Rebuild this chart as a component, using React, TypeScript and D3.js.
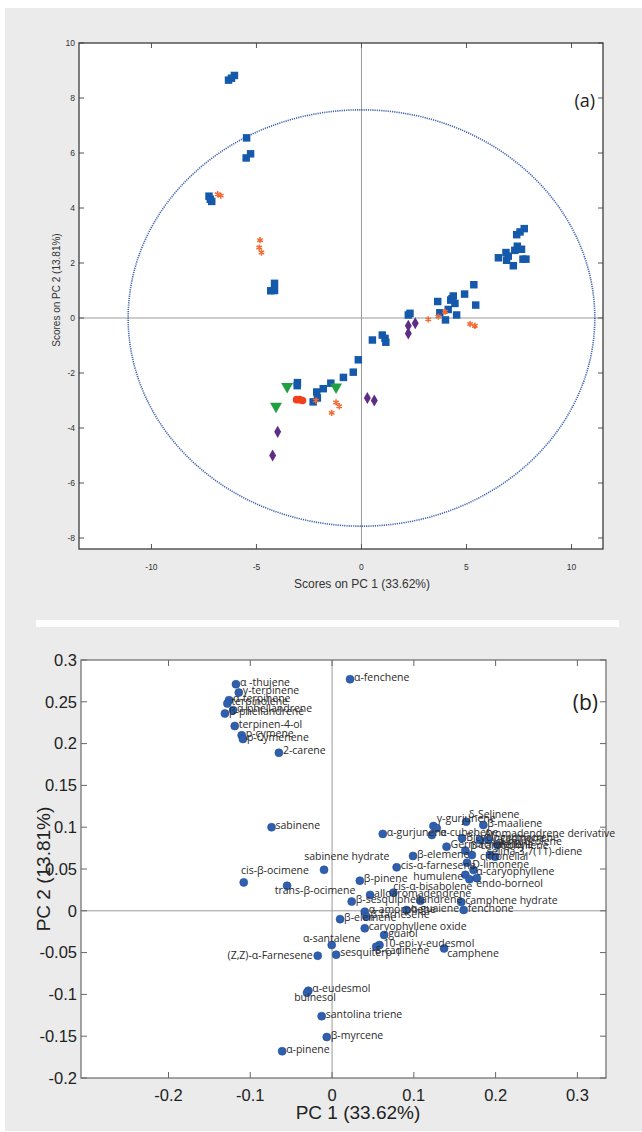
import React from "react";
import * as d3 from "d3";

// ---------- (a) PCA scores ----------
const scoreTicksX = [-10, -5, 0, 5, 10];
const scoreTicksY = [-8, -6, -4, -2, 0, 2, 4, 6, 8, 10];
const confidenceRadius = [11.11, 7.57]; // ellipse semi-axes on PC1, PC2

const blueSquares: [number, number][] = [
  [-6.33, 8.65], [-6.19, 8.72], [-6.05, 8.82],
  [-5.47, 6.55], [-5.49, 5.82], [-5.28, 5.97],
  [-7.26, 4.43], [-7.13, 4.24], [-7.2, 4.32],
  [-4.32, 0.99], [-4.14, 1.0], [-4.14, 1.26],
  [7.75, 3.25], [7.55, 3.13], [7.39, 3.03], [7.42, 2.61], [7.62, 2.5], [6.88, 2.38],
  [6.52, 2.19], [6.91, 2.1], [7.83, 2.14], [7.23, 1.9], [7.3, 2.46], [7.69, 2.14], [6.99, 2.25],
  [5.35, 1.21], [4.91, 0.87], [3.63, 0.6], [4.37, 0.8], [4.25, 0.65], [4.45, 0.53], [5.44, 0.47],
  [4.13, 0.31], [3.73, 0.19], [4.53, 0.11], [4.0, -0.07], [2.31, 0.17], [2.23, 0.11], [4.31, 0.7],
  [0.52, -0.8], [0.99, -0.62], [1.12, -0.74], [1.16, -0.88], [-0.15, -1.52], [-0.39, -1.97],
  [-0.86, -2.16], [-1.46, -2.37], [-1.82, -2.57], [-2.13, -2.69], [-2.3, -3.05], [-3.06, -2.46],
  [-2.1, -2.91], [-3.05, -2.35],
];
const orangeStars: [number, number][] = [
  [-6.85, 4.5], [-6.7, 4.45], [-4.83, 2.83], [-4.87, 2.56], [-4.76, 2.38],
  [3.18, -0.05], [3.66, 0.05], [3.98, 0.23], [5.17, -0.22], [5.4, -0.28],
  [-2.17, -3.0], [-1.21, -3.07], [-1.06, -3.21], [-1.42, -3.45],
];
const purpleDiamonds: [number, number][] = [
  [2.23, -0.28], [2.56, -0.19], [2.23, -0.56], [0.28, -2.91], [0.61, -3.0], [-3.99, -4.14], [-4.23, -5.0],
];
const greenTriangles: [number, number][] = [[-3.54, -2.49], [-1.21, -2.51], [-4.07, -3.21]];
const redCircles: [number, number][] = [[-3.09, -2.97], [-2.95, -2.97], [-2.81, -3.0]];

// ---------- (b) PCA loadings ----------
const loadTicksX = [-0.2, -0.1, 0, 0.1, 0.2, 0.3];
const loadTickLabelsX = ["-0.2", "-0.1", "0", "0.1", "0.2", "0.3"];
const loadTicksY = [-0.2, -0.15, -0.1, -0.05, 0, 0.05, 0.1, 0.15, 0.2, 0.25, 0.3];
const loadTickLabelsY = ["-0.2", "-0.15", "-0.1", "-0.05", "0", "0.05", "0.1", "0.15", "0.2", "0.25", "0.3"];

const loadings: [string, number, number][] = [
  ["α-fenchene", 0.022, 0.277],
  ["α -thujene", -0.1175, 0.271],
  ["γ-terpinene", -0.114, 0.261],
  ["α-terpinene", -0.126, 0.252],
  ["terpinolene", -0.128, 0.248],
  ["α-phellandrene", -0.121, 0.24],
  ["β-phellandrene", -0.131, 0.236],
  ["terpinen-4-ol", -0.119, 0.221],
  ["p-cymene", -0.1105, 0.21],
  ["p-Cymenene", -0.109, 0.2055],
  ["2-carene", -0.065, 0.189],
  ["sabinene", -0.074, 0.1],
  ["α-gurjunene", 0.062, 0.092],
  ["sabinene hydrate", -0.0098, 0.049],
  ["cis-β-ocimene", -0.108, 0.034],
  ["trans-β-ocimene", -0.055, 0.03],
  ["β-pinene", 0.034, 0.036],
  ["cis-α-farnesene", 0.079, 0.052],
  ["β-elemene", 0.099, 0.0656],
  ["alloaromadendrene", 0.0465, 0.019],
  ["cis-α-bisabolene", 0.075, 0.0217],
  ["β-sesquiphellandrene", 0.024, 0.011],
  ["", 0.108, 0.012],
  ["α-amorphene", 0.04, -0.001],
  ["β-farnesene", 0.042, -0.007],
  ["α-guaiene", 0.091, 0.001],
  ["fenchone", 0.161, 0.001],
  ["camphene hydrate", 0.158, 0.0105],
  ["β-elemene", 0.0098, -0.01],
  ["caryophyllene oxide", 0.04, -0.021],
  ["guaiol", 0.0637, -0.029],
  ["10-epi-γ-eudesmol", 0.058, -0.041],
  ["δ-cadinene", 0.054, -0.043],
  ["camphene", 0.137, -0.045],
  ["α-santalene", -0.0004, -0.041],
  ["(Z,Z)-α-Farnesene", -0.0175, -0.0537],
  ["sesquiterp-1", 0.005, -0.0525],
  ["α-eudesmol", -0.029, -0.0956],
  ["bulnesol", -0.0306, -0.098],
  ["santolina triene", -0.0127, -0.126],
  ["β-myrcene", -0.0065, -0.151],
  ["α-pinene", -0.061, -0.168],
  ["δ-Selinene", 0.164, 0.1066],
  ["γ-gurjunene", 0.124, 0.1014],
  ["β-maaliene", 0.185, 0.1026],
  ["α-cubebene", 0.122, 0.0907],
  ["", 0.128, 0.0987],
  ["Aromadendrene derivative", 0.181, 0.0847],
  ["Bicyclogermacrene", 0.159, 0.0867],
  ["Germacrene D", 0.14, 0.0767],
  ["selina-3,7(11)-diene", 0.193, 0.0668],
  ["citronellal", 0.171, 0.0667],
  ["β-caryophyllene", 0.163, 0.072],
  ["α-muurolene", 0.1995, 0.0647],
  ["γ-cadinene", 0.191, 0.0847],
  ["ledene", 0.202, 0.0787],
  ["D-limonene", 0.165, 0.0576],
  ["α-caryophyllene", 0.173, 0.0488],
  ["humulene", 0.163, 0.043],
  ["endo-borneol", 0.168, 0.0377],
  ["", 0.177, 0.039],
];

// label anchors (data units) where the label is not just right of its point
const labelAnchors: Record<string, [number, number, "start" | "middle" | "end"]> = {
  "sabinene hydrate": [0.018, 0.0656, "middle"],
  "cis-β-ocimene": [-0.0698, 0.0488, "middle"],
  "trans-β-ocimene": [-0.0208, 0.025, "middle"],
  "cis-α-bisabolene": [0.0747, 0.0288, "start"],
  "δ-cadinene": [0.0526, -0.047, "start"],
  "camphene": [0.1408, -0.0508, "start"],
  "α-santalene": [-0.0004, -0.0333, "middle"],
  "(Z,Z)-α-Farnesene": [-0.0236, -0.0529, "end"],
  "bulnesol": [-0.0208, -0.1035, "middle"],
  "δ-Selinene": [0.1665, 0.1158, "start"],
  "γ-gurjunene": [0.128, 0.1106, "start"],
  "α-cubebene": [0.132, 0.0943, "start"],
  "Aromadendrene derivative": [0.186, 0.0931, "start"],
  "Bicyclogermacrene": [0.164, 0.0883, "start"],
  "selina-3,7(11)-diene": [0.1892, 0.0707, "start"],
  "citronellal": [0.181, 0.0647, "start"],
  "β-caryophyllene": [0.169, 0.0787, "start"],
  "α-muurolene": [0.203, 0.0835, "start"],
  "γ-cadinene": [0.195, 0.0865, "start"],
  "ledene": [0.206, 0.08, "start"],
  "D-limonene": [0.1714, 0.056, "start"],
  "α-caryophyllene": [0.1763, 0.0468, "start"],
  "humulene": [0.1603, 0.0408, "end"],
  "endo-borneol": [0.1763, 0.0329, "start"],
};

const ARIAL = "'Liberation Sans', Arial, sans-serif";
const LABEL_FONT = "'Open Sans', sans-serif";

function Marker({ d, x, y, fill, stroke, sw, rot }: any) {
  return (
    <path
      d={d}
      transform={`translate(${x},${y})${rot ? ` rotate(${rot})` : ""}`}
      fill={fill}
      stroke={stroke || "none"}
      strokeWidth={sw || 0}
    />
  );
}

export default function App() {
  // ----- top chart geometry -----
  const sx = d3.scaleLinear().domain([-13.45, 11.5]).range([79, 603]);
  const sy = d3.scaleLinear().domain([-8.4, 10]).range([549, 43]);
  const [tx0, tx1] = sx.range();
  const [ty0, ty1] = [sy(10), sy(-8.4)];

  const sq = d3.symbol().type(d3.symbolSquare).size(56)()!;
  const ast = d3.symbol().type(d3.symbolAsterisk).size(28)()!;
  const dia = d3.symbol().type(d3.symbolDiamond).size(42)()!;
  const tri = d3.symbol().type(d3.symbolTriangle).size(62)()!;
  const circ = d3.symbol().type(d3.symbolCircle).size(46)()!;

  // ----- bottom chart geometry -----
  const bx = d3.scaleLinear().domain([-0.307, 0.335]).range([81, 606]);
  const by = d3.scaleLinear().domain([-0.2, 0.3]).range([1078, 660]);
  const [bx0, bx1] = bx.range();
  const [by0, by1] = [by(0.3), by(-0.2)];

  return (
    <svg
      width={642}
      height={1132}
      style={{ position: "absolute", left: 0, top: 0, display: "block" }}
      xmlns="http://www.w3.org/2000/svg"
    >
      <rect x={0} y={0} width={642} height={1132} fill="#ffffff" />
      <rect x={5} y={8} width={637} height={1123} fill="#ebebeb" />
      <rect x={36} y={620} width={583} height={7} fill="#ffffff" />

      {/* ================= (a) ================= */}
      <rect x={tx0} y={ty0} width={tx1 - tx0} height={ty1 - ty0} fill="#ffffff" />
      <line x1={sx(0)} x2={sx(0)} y1={ty0} y2={ty1} stroke="#9a9a9a" strokeWidth={1} />
      <line x1={tx0} x2={tx1} y1={sy(0)} y2={sy(0)} stroke="#9a9a9a" strokeWidth={1} />
      <ellipse
        cx={sx(0)}
        cy={sy(0)}
        rx={sx(confidenceRadius[0]) - sx(0)}
        ry={sy(0) - sy(confidenceRadius[1])}
        fill="none"
        stroke="#3f64ad"
        strokeWidth={1.6}
        strokeDasharray="1.2 1"
      />
      {scoreTicksX.map((t) => (
        <g key={"sxt" + t}>
          <line x1={sx(t)} x2={sx(t)} y1={ty1} y2={ty1 - 5} stroke="#555" />
          <line x1={sx(t)} x2={sx(t)} y1={ty0} y2={ty0 + 5} stroke="#555" />
          <text x={sx(t)} y={ty1 + 21} textAnchor="middle" fontFamily={ARIAL} fontSize={8.5} fill="#333">
            {t}
          </text>
        </g>
      ))}
      {scoreTicksY.map((t) => (
        <g key={"syt" + t}>
          <line x1={tx0} x2={tx0 + 5} y1={sy(t)} y2={sy(t)} stroke="#555" />
          <line x1={tx1} x2={tx1 - 5} y1={sy(t)} y2={sy(t)} stroke="#555" />
          <text x={tx0 - 4} y={sy(t)} dy="0.35em" textAnchor="end" fontFamily={ARIAL} fontSize={8.5} fill="#333">
            {t}
          </text>
        </g>
      ))}
      <rect x={tx0} y={ty0} width={tx1 - tx0} height={ty1 - ty0} fill="none" stroke="#3c3c3c" strokeWidth={1.3} />

      {blueSquares.map(([x, y], i) => (
        <Marker key={"b" + i} d={sq} x={sx(x)} y={sy(y)} fill="#1559ab" />
      ))}
      {orangeStars.map(([x, y], i) => (
        <Marker key={"o" + i} d={ast} x={sx(x)} y={sy(y)} fill="none" stroke="#f26b35" sw={1.5} />
      ))}
      {purpleDiamonds.map(([x, y], i) => (
        <Marker key={"p" + i} d={dia} x={sx(x)} y={sy(y)} fill="#5e2d86" />
      ))}
      {greenTriangles.map(([x, y], i) => (
        <Marker key={"g" + i} d={tri} x={sx(x)} y={sy(y)} fill="#20a041" rot={180} />
      ))}
      {redCircles.map(([x, y], i) => (
        <Marker key={"r" + i} d={circ} x={sx(x)} y={sy(y)} fill="#f0401c" />
      ))}

      <text x={tx1 - 8} y={107} textAnchor="end" fontFamily={LABEL_FONT} fontSize={18} fill="#222">
        (a)
      </text>
      <text x={362} y={588} textAnchor="middle" fontFamily={ARIAL} fontSize={12} fill="#333">
        Scores on PC 1 (33.62%)
      </text>
      <text
        transform={`translate(60,${290}) rotate(-90)`}
        textAnchor="middle"
        fontFamily={ARIAL}
        fontSize={10}
        fill="#333"
      >
        Scores on PC 2 (13.81%)
      </text>

      {/* ================= (b) ================= */}
      <rect x={bx0} y={by0} width={bx1 - bx0} height={by1 - by0} fill="#ffffff" />
      <line x1={bx(0)} x2={bx(0)} y1={by0} y2={by1} stroke="#9a9a9a" strokeWidth={1} />
      <line x1={bx0} x2={bx1} y1={by(0)} y2={by(0)} stroke="#9a9a9a" strokeWidth={1} />
      {loadTicksX.map((t, i) => (
        <g key={"bxt" + t}>
          <line x1={bx(t)} x2={bx(t)} y1={by1} y2={by1 - 6} stroke="#666" />
          <line x1={bx(t)} x2={bx(t)} y1={by0} y2={by0 + 6} stroke="#666" />
          <text x={bx(t)} y={by1 + 23} textAnchor="middle" fontFamily={ARIAL} fontSize={16.5} fill="#222">
            {loadTickLabelsX[i]}
          </text>
        </g>
      ))}
      {loadTicksY.map((t, i) => (
        <g key={"byt" + t}>
          <line x1={bx0} x2={bx0 + 6} y1={by(t)} y2={by(t)} stroke="#666" />
          <line x1={bx1} x2={bx1 - 6} y1={by(t)} y2={by(t)} stroke="#666" />
          <text x={bx0 - 4} y={by(t)} dy="0.35em" textAnchor="end" fontFamily={ARIAL} fontSize={16.5} fill="#222">
            {loadTickLabelsY[i]}
          </text>
        </g>
      ))}
      <rect x={bx0} y={by0} width={bx1 - bx0} height={by1 - by0} fill="none" stroke="#6a6a6a" strokeWidth={1.2} />

      {loadings.map(([name, x, y], i) => (
        <circle key={"lc" + i} cx={bx(x)} cy={by(y)} r={4} fill="#2f5fad" stroke="#24519a" strokeWidth={0.6} />
      ))}
      {loadings.map(([name, x, y], i) => {
        if (!name) return null;
        const a = labelAnchors[name];
        const lx = a ? bx(a[0]) : bx(x) + 4;
        const ly = a ? by(a[1]) : by(y) - 2;
        const anchor = a ? a[2] : "start";
        return (
          <text
            key={"lt" + i}
            x={lx}
            y={ly}
            dy="0.35em"
            textAnchor={anchor}
            fontFamily={LABEL_FONT}
            fontSize={10.5}
            fill="#2a2a2a"
          >
            {name}
          </text>
        );
      })}

      <text x={bx1 - 8} y={by(0.25) + 8} textAnchor="end" fontFamily={LABEL_FONT} fontSize={21} fill="#222">
        (b)
      </text>
      <text x={358} y={1119} textAnchor="middle" fontFamily={ARIAL} fontSize={19} fill="#222">
        PC 1 (33.62%)
      </text>
      <text
        transform={`translate(50,${(by0 + by1) / 2}) rotate(-90)`}
        textAnchor="middle"
        fontFamily={ARIAL}
        fontSize={19}
        fill="#222"
      >
        PC 2 (13.81%)
      </text>
    </svg>
  );
}
